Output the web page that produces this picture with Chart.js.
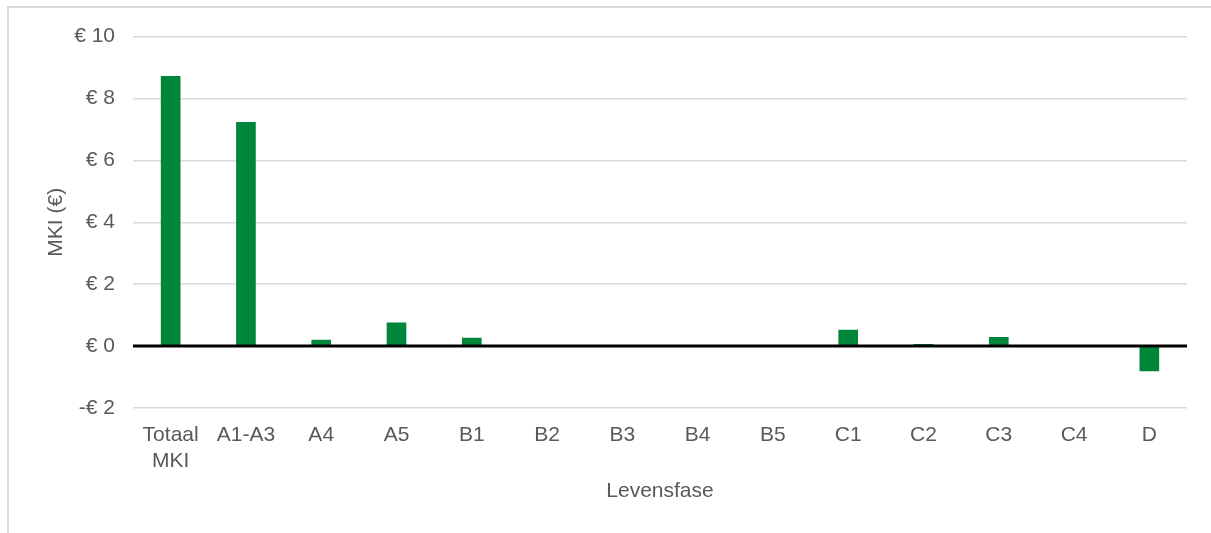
<!doctype html>
<html lang="nl">
  <head>
    <meta charset="utf-8">
    <title>MKI per levensfase</title>
    <script src="https://cdn.jsdelivr.net/npm/chart.js@4/dist/chart.umd.min.js"></script>
    <style>
      html, body {
        margin: 0;
        padding: 0;
        background: #fff;
        overflow: hidden;
      }
      .frame {
        position: absolute;
        left: 7px;
        top: 6px;
        width: 1400px;
        height: 700px;
        border-left: 2px solid #d9d9d9;
        border-top: 2px solid #d9d9d9;
      }
      .wrap {
        position: absolute;
        left: 0;
        top: 0;
        width: 1211px;
        height: 533px;
      }
    </style>
  </head>
  <body>
    <div class="frame"></div>
    <div class="wrap"><canvas id="chart"></canvas></div>

    <script>
      const phases = [["Totaal", "MKI"], "A1-A3", "A4", "A5", "B1", "B2", "B3", "B4", "B5", "C1", "C2", "C3", "C4", "D"];
      const mki = [8.71, 7.23, 0.19, 0.75, 0.26, 0, 0, 0, 0, 0.52, 0.06, 0.28, 0, -0.80];

      const yMin = -2;
      const yMax = 10;
      const yStep = 2;

      const grey = "#595959";
      const font = { family: "'Liberation Sans', Arial, sans-serif", size: 21 };

      // black line on the zero value, drawn on top of the bars
      const zeroLine = {
        id: "zeroLine",
        afterDatasetsDraw(chart) {
          const { ctx, chartArea, scales } = chart;
          const y = scales.y.getPixelForValue(0);
          ctx.save();
          ctx.strokeStyle = "#000";
          ctx.lineWidth = 3;
          ctx.beginPath();
          ctx.moveTo(chartArea.left, y);
          ctx.lineTo(chartArea.right, y);
          ctx.stroke();
          ctx.restore();
        }
      };

      const euro = v => (v < 0 ? "-€ " + (-v) : "€ " + v);

      new Chart(document.getElementById("chart"), {
        type: "bar",
        data: {
          labels: phases,
          datasets: [{
            label: "MKI (€)",
            data: mki,
            backgroundColor: "#00863b",
            barThickness: 19
          }]
        },
        options: {
          responsive: true,
          maintainAspectRatio: false,
          animation: false,
          layout: { padding: { left: 0, right: 24, top: 36.5, bottom: 0 } },
          plugins: {
            legend: { display: false },
            tooltip: { enabled: false }
          },
          scales: {
            x: {
              grid: { display: false },
              border: { display: false },
              ticks: { color: grey, font, padding: 7, maxRotation: 0, autoSkip: false },
              title: {
                display: true,
                text: "Levensfase",
                color: grey,
                font,
                padding: { top: 8, bottom: 29 }
              },
              afterFit(scale) { scale.height = 125; }
            },
            y: {
              min: yMin,
              max: yMax,
              border: { display: false },
              grid: {
                color: ctx => (ctx.tick && ctx.tick.value === 0 ? "rgba(0,0,0,0)" : "#d9d9d9"),
                lineWidth: 1.5,
                drawTicks: false
              },
              ticks: { stepSize: yStep, color: grey, font, padding: 18, callback: euro },
              title: {
                display: true,
                text: "MKI (€)",
                color: grey,
                font,
                padding: { top: 44, bottom: 0 }
              },
              afterFit(scale) { scale.width = 133; }
            }
          }
        },
        plugins: [zeroLine]
      });
    </script>
  </body>
</html>
